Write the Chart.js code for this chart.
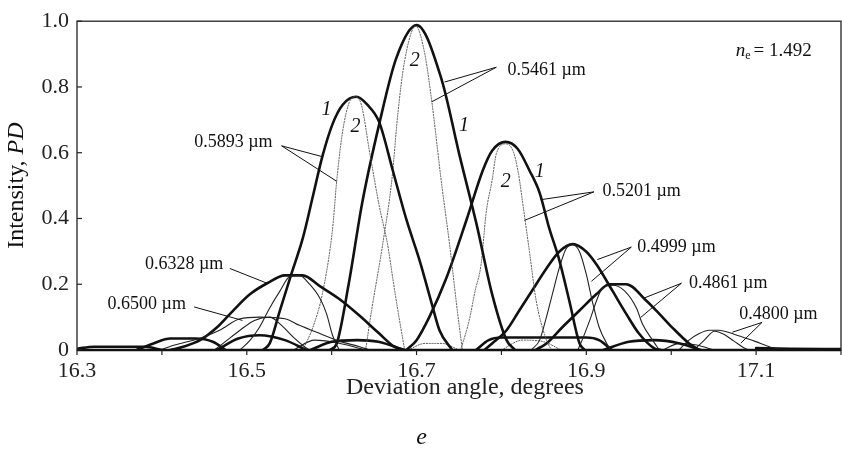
<!DOCTYPE html>
<html><head><meta charset="utf-8">
<script src="https://cdn.jsdelivr.net/npm/chart.js@4/dist/chart.umd.min.js"></script>
<style>html,body{margin:0;padding:0;background:#fff}canvas{display:block}</style>
</head><body>
<canvas id="c" width="842" height="457"></canvas>
<script>
// ---------- data (deviation angle in degrees, intensity PD) ----------
const xTicks = [16.3,16.4,16.5,16.6,16.7,16.8,16.9,17.0,17.1,17.2];
const xLabels = ['16.3','','16.5','','16.7','','16.9','','17.1',''];
const yTicks = [0,0.2,0.4,0.6,0.8,1.0];
const yLabels = ['0','0.2','0.4','0.6','0.8','1.0'];

// 0.5461 um
const w5461c1_x = [16.598,16.606,16.620,16.636,16.656,16.676,16.700,16.729,16.751,16.771,16.789,16.806,16.816];
const w5461c1_y = [0,0.02,0.2,0.448,0.687,0.887,0.988,0.827,0.588,0.379,0.170,0.03,0];
const w5461c2_x = [16.640,16.647,16.660,16.671,16.678,16.686,16.699,16.709,16.718,16.729,16.739,16.748,16.754];
const w5461c2_y = [0,0.12,0.32,0.52,0.72,0.88,0.985,0.91,0.755,0.516,0.319,0.12,0];
// 0.5893 um
const w5893c1_x = [16.519,16.527,16.539,16.553,16.566,16.578,16.589,16.601,16.613,16.629,16.642,16.656,16.672,16.688,16.704,16.718,16.727,16.742];
const w5893c1_y = [0,0.02,0.12,0.235,0.34,0.469,0.588,0.687,0.746,0.770,0.746,0.693,0.546,0.397,0.269,0.14,0.06,0];
const w5893c2_x = [16.566,16.578,16.589,16.601,16.606,16.613,16.621,16.628,16.635,16.645,16.656,16.666,16.672,16.678,16.686];
const w5893c2_y = [0,0.07,0.17,0.367,0.516,0.666,0.755,0.77,0.746,0.597,0.439,0.319,0.218,0.12,0];
// 0.5201 um
const w5201c1_x = [16.688,16.70,16.715,16.735,16.759,16.778,16.789,16.805,16.819,16.833,16.845,16.856,16.868,16.88,16.892,16.898];
const w5201c1_y = [0,0.03,0.1,0.218,0.397,0.546,0.606,0.633,0.612,0.546,0.478,0.373,0.275,0.149,0.02,0];
const w5201c2_x = [16.752,16.762,16.769,16.776,16.782,16.789,16.794,16.805,16.814,16.82,16.825,16.833,16.841,16.853,16.859];
const w5201c2_y = [0,0.09,0.18,0.26,0.418,0.516,0.597,0.627,0.603,0.537,0.448,0.299,0.149,0.03,0];
// 0.4999 um
const w4999c1_x = [16.78,16.789,16.806,16.821,16.836,16.853,16.868,16.884,16.9,16.912,16.931,16.947,16.962,16.98,16.988];
const w4999c1_y = [0,0.02,0.06,0.12,0.18,0.248,0.299,0.322,0.299,0.26,0.179,0.11,0.05,0.005,0];
const w4999c2_x = [16.835,16.845,16.853,16.86,16.868,16.876,16.884,16.892,16.9,16.907,16.915,16.924,16.929];
const w4999c2_y = [0,0.03,0.1,0.17,0.248,0.307,0.32,0.299,0.23,0.149,0.07,0.02,0];
// 0.4861 um
const w4861c1_x = [16.84,16.853,16.872,16.892,16.912,16.927,16.947,16.971,16.986,17.001,17.021,17.033];
const w4861c1_y = [0,0.02,0.07,0.12,0.17,0.2,0.2,0.149,0.11,0.069,0.02,0];
const w4861c2_x = [16.89,16.895,16.904,16.912,16.919,16.931,16.945,16.959,16.966,16.978,16.986];
const w4861c2_y = [0,0.03,0.09,0.15,0.188,0.197,0.18,0.128,0.08,0.03,0];
// 0.4800 um
const w4800c1_x = [17.009,17.021,17.033,17.045,17.056,17.074,17.098,17.121,17.139];
const w4800c1_y = [0,0.03,0.05,0.06,0.06,0.048,0.027,0.006,0];
const w4800c2_x = [17.027,17.039,17.051,17.062,17.074,17.086,17.092];
const w4800c2_y = [0,0.03,0.057,0.048,0.027,0.006,0];
// 0.6328 um
const w6328c1_x = [16.41,16.425,16.445,16.465,16.484,16.504,16.524,16.545,16.566,16.586,16.609,16.633,16.656,16.674,16.686];
const w6328c1_y = [0,0.01,0.03,0.069,0.12,0.17,0.203,0.227,0.227,0.194,0.155,0.104,0.05,0.01,0];
const w6328c2_x = [16.492,16.504,16.515,16.527,16.539,16.551,16.562,16.574,16.586,16.594,16.601,16.609];
const w6328c2_y = [0,0.03,0.069,0.128,0.179,0.224,0.227,0.2,0.158,0.11,0.045,0];
// 0.6500 um
const w6500c1_x = [16.398,16.415,16.445,16.468,16.492,16.515,16.545,16.562,16.586,16.609,16.633,16.645];
const w6500c1_y = [0,0.015,0.036,0.06,0.095,0.1,0.095,0.075,0.05,0.027,0.01,0];
const w6500c2_x = [16.462,16.474,16.492,16.509,16.527,16.541,16.556,16.568,16.574];
const w6500c2_y = [0,0.024,0.06,0.09,0.1,0.075,0.036,0.01,0];
// side lobes near the base line
const lobeA_x = [16.30,16.32,16.38,16.40];        const lobeA_y = [0.004,0.01,0.01,0];
const lobeB_x = [16.37,16.39,16.41,16.44,16.46,16.475]; const lobeB_y = [0,0.02,0.035,0.035,0.025,0];
const lobeC_x = [16.465,16.49,16.515,16.545,16.57]; const lobeC_y = [0,0.035,0.045,0.03,0];
const lobeD_x = [16.575,16.60,16.63,16.655,16.685]; const lobeD_y = [0,0.025,0.03,0.025,0];
const lobeE_x = [16.77,16.785,16.80,16.90,16.915,16.93]; const lobeE_y = [0,0.03,0.038,0.038,0.03,0];
const lobeF_x = [16.92,16.95,16.98,17.01,17.035]; const lobeF_y = [0,0.025,0.03,0.02,0];
const lobeG_x = [16.69,16.71,16.73,16.75]; const lobeG_y = [0,0.02,0.02,0];
const lobeH_x = [16.80,16.825,16.85,16.87]; const lobeH_y = [0,0.03,0.025,0];
const lobeI_x = [16.555,16.58,16.61,16.64]; const lobeI_y = [0,0.03,0.02,0];
const lobeJ_x = [16.99,17.01,17.03,17.05]; const lobeJ_y = [0,0.02,0.015,0];
const lobeK_x = [17.10,17.14,17.20]; const lobeK_y = [0.006,0.004,0.003];

// ---------- build datasets ----------
const STYLE = {
  thick: {borderColor:'#111', borderWidth:2.6, borderDash:[]},
  thin:  {borderColor:'#222', borderWidth:1.1, borderDash:[]},
  dot:   {borderColor:'#555', borderWidth:1.0, borderDash:[1.2,1.6]}
};
const curves = [
  [w6500c1_x,w6500c1_y,'thin'],[w6500c2_x,w6500c2_y,'thin'],
  [w6328c2_x,w6328c2_y,'thin'],[w6328c1_x,w6328c1_y,'thick'],
  [w5893c2_x,w5893c2_y,'dot'],[w5893c1_x,w5893c1_y,'thick'],
  [w5461c2_x,w5461c2_y,'dot'],[w5461c1_x,w5461c1_y,'thick'],
  [w5201c2_x,w5201c2_y,'dot'],[w5201c1_x,w5201c1_y,'thick'],
  [w4999c2_x,w4999c2_y,'thin'],[w4999c1_x,w4999c1_y,'thick'],
  [w4861c2_x,w4861c2_y,'thin'],[w4861c1_x,w4861c1_y,'thick'],
  [w4800c1_x,w4800c1_y,'thin'],[w4800c2_x,w4800c2_y,'thin'],
  [lobeA_x,lobeA_y,'thick'],[lobeB_x,lobeB_y,'thick'],[lobeC_x,lobeC_y,'thick'],
  [lobeD_x,lobeD_y,'thick'],[lobeE_x,lobeE_y,'thick'],[lobeF_x,lobeF_y,'thick'],
  [lobeG_x,lobeG_y,'dot'],[lobeH_x,lobeH_y,'dot'],[lobeI_x,lobeI_y,'thin'],
  [lobeJ_x,lobeJ_y,'thin'],[lobeK_x,lobeK_y,'thick']
];
const datasets = curves.map(([xs,ys,st]) => Object.assign({
  data: xs.map((x,i)=>({x, y: ys[i]})),
  pointRadius:0, fill:false, tension:0.4, cubicInterpolationMode:'monotone',
  borderJoinStyle:'round', borderCapStyle:'round'
}, STYLE[st]));

// ---------- annotations (data coordinates) ----------
const labels = [
  {t:'0.5461 \u00b5m', x:16.807, y:0.851, from:[16.794,0.860], to:[[16.733,0.815],[16.718,0.755]]},
  {t:'0.5893 \u00b5m', x:16.438, y:0.633, from:[16.541,0.621], to:[[16.589,0.588],[16.606,0.513]]},
  {t:'0.5201 \u00b5m', x:16.919, y:0.484, from:[16.909,0.481], to:[[16.846,0.457],[16.827,0.394]]},
  {t:'0.4999 \u00b5m', x:16.960, y:0.313, from:[16.953,0.313], to:[[16.913,0.275],[16.906,0.209]]},
  {t:'0.4861 \u00b5m', x:17.021, y:0.203, from:[17.012,0.203], to:[[16.968,0.158],[16.964,0.099]]},
  {t:'0.4800 \u00b5m', x:17.080, y:0.110, from:[17.107,0.084], to:[[17.072,0.054],[17.082,0.021]]},
  {t:'0.6328 \u00b5m', x:16.380, y:0.260, from:[16.480,0.248], to:[[16.524,0.203]]},
  {t:'0.6500 \u00b5m', x:16.336, y:0.140, from:[16.438,0.131], to:[[16.495,0.090]]}
];
const curveNums = [
  {t:'1', x:16.594, y:0.731}, {t:'1', x:16.756, y:0.681}, {t:'1', x:16.845, y:0.543},
  {t:'2', x:16.698, y:0.881}, {t:'2', x:16.628, y:0.678}, {t:'2', x:16.805, y:0.513}
];
const SERIF = "'Liberation Serif','Times New Roman',serif";

const decor = {
  id:'decor',
  afterDatasetsDraw(chart){
    const {ctx, chartArea:a, scales:{x, y}} = chart;
    ctx.save();
    // frame
    ctx.strokeStyle = '#333'; ctx.lineWidth = 1.4;
    ctx.strokeRect(a.left, a.top, a.right - a.left, a.bottom - a.top);
    ctx.lineWidth = 2.4; ctx.strokeStyle='#111';
    ctx.beginPath(); ctx.moveTo(a.left, a.bottom); ctx.lineTo(a.right, a.bottom); ctx.stroke();
    // tick marks
    ctx.lineWidth = 1.2; ctx.strokeStyle = '#222';
    xTicks.forEach(v => { const px = x.getPixelForValue(v); ctx.beginPath(); ctx.moveTo(px, a.bottom); ctx.lineTo(px, a.bottom + 5); ctx.stroke(); });
    yTicks.forEach(v => { const py = y.getPixelForValue(v); ctx.beginPath(); ctx.moveTo(a.left, py); ctx.lineTo(a.left + 5, py); ctx.stroke(); });
    // labels with leader lines
    ctx.fillStyle = '#111'; ctx.strokeStyle = '#111'; ctx.lineWidth = 1;
    ctx.font = '18px ' + SERIF; ctx.textBaseline = 'middle'; ctx.textAlign = 'left';
    labels.forEach(l => {
      ctx.fillText(l.t, x.getPixelForValue(l.x), y.getPixelForValue(l.y));
      const fx = x.getPixelForValue(l.from[0]), fy = y.getPixelForValue(l.from[1]);
      l.to.forEach(p => { ctx.beginPath(); ctx.moveTo(fx, fy); ctx.lineTo(x.getPixelForValue(p[0]), y.getPixelForValue(p[1])); ctx.stroke(); });
    });
    ctx.font = 'italic 20px ' + SERIF; ctx.textAlign = 'center';
    curveNums.forEach(n => ctx.fillText(n.t, x.getPixelForValue(n.x), y.getPixelForValue(n.y)));
    // n_e = 1.492
    let nx = x.getPixelForValue(17.076), ny = y.getPixelForValue(0.91);
    ctx.textAlign = 'left';
    ctx.font = 'italic 19px ' + SERIF; ctx.fillText('n', nx, ny); nx += ctx.measureText('n').width;
    ctx.font = '12px ' + SERIF; ctx.fillText('e', nx, ny + 5); nx += ctx.measureText('e').width + 3;
    ctx.font = '19px ' + SERIF; ctx.fillText('= 1.492', nx, ny);
    // y axis title
    ctx.save();
    ctx.translate(17, (a.top + a.bottom) / 2); ctx.rotate(-Math.PI / 2);
    ctx.font = '24px ' + SERIF; const w1 = ctx.measureText('Intensity, ').width;
    ctx.font = 'italic 24px ' + SERIF; const w2 = ctx.measureText('PD').width;
    let sx = -(w1 + w2) / 2;
    ctx.font = '24px ' + SERIF; ctx.fillText('Intensity, ', sx, 0);
    ctx.font = 'italic 24px ' + SERIF; ctx.fillText('PD', sx + w1, 0);
    ctx.restore();
    // x axis title
    ctx.font = '24px ' + SERIF; ctx.textAlign = 'center'; ctx.fillStyle = '#222';
    ctx.fillText('Deviation angle, degrees', x.getPixelForValue(16.757), 388);
    // panel letter
    ctx.fillStyle = '#111';
    ctx.font = 'italic 24px ' + SERIF; ctx.textAlign = 'center';
    ctx.fillText('e', x.getPixelForValue(16.706), 438);
    ctx.restore();
  }
};

new Chart(document.getElementById('c'), {
  type:'line',
  data:{datasets},
  options:{
    responsive:false, animation:false, events:[],
    layout:{padding:{top:15, right:1, left:0, bottom:0}},
    plugins:{legend:{display:false}, tooltip:{enabled:false}, title:{display:false}},
    scales:{
      x:{type:'linear', min:16.3, max:17.2,
        afterBuildTicks: s => { s.ticks = xTicks.map(v => ({value:v})); },
        afterFit: s => { s.height = 107; },
        ticks:{autoSkip:false, maxRotation:0, padding:0, color:'#222',
          font:{family:SERIF, size:22}, callback:(v, i) => xLabels[i]},
        grid:{display:false, drawTicks:true, tickLength:8}, border:{display:false},
        title:{display:false}
      },
      y:{type:'linear', min:0, max:1,
        afterBuildTicks: s => { s.ticks = yTicks.map(v => ({value:v})); },
        afterFit: s => { s.width = 77; },
        ticks:{autoSkip:false, padding:8, color:'#222',
          font:{family:SERIF, size:22}, callback:(v, i) => yLabels[i]},
        grid:{display:false, drawTicks:false}, border:{display:false}
      }
    }
  },
  plugins:[decor]
});
</script>
</body></html>
